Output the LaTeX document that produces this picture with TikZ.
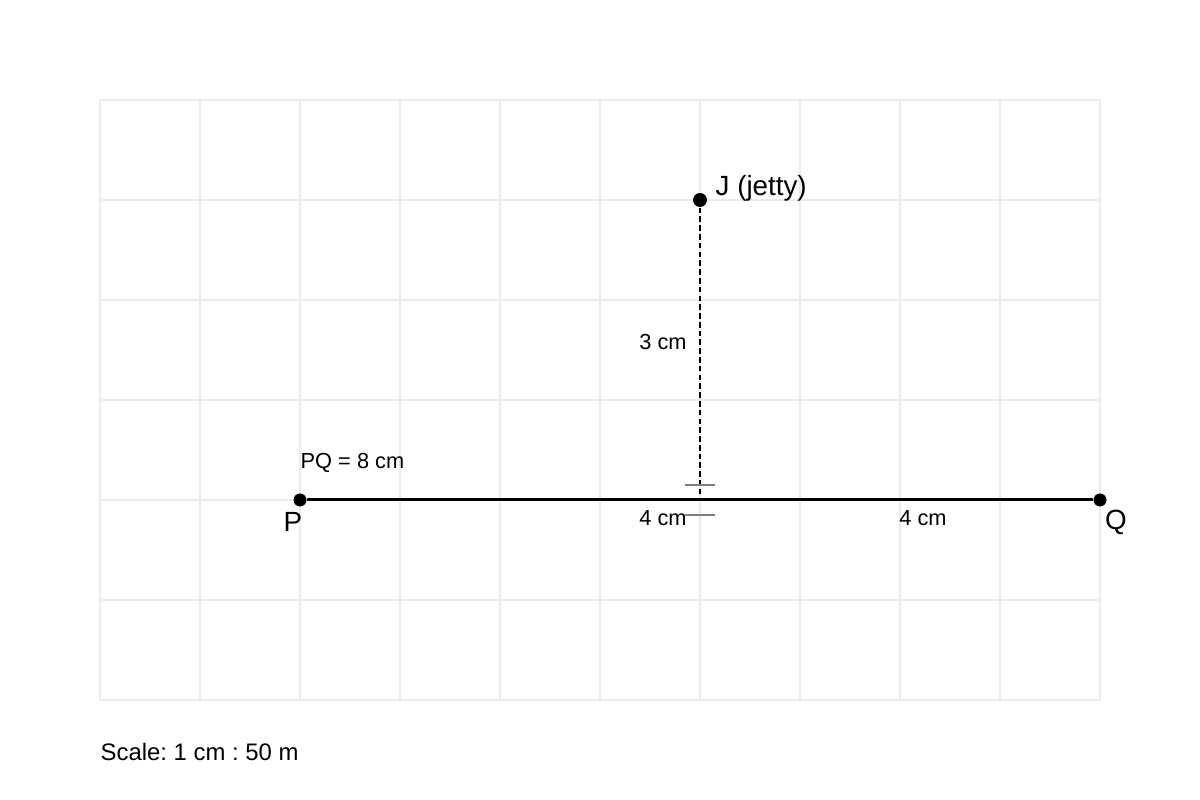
\documentclass[tikz,border=0pt]{standalone}
\usepackage{fontspec}
\setmainfont{Liberation Sans}
\usepackage{tikz}
\usetikzlibrary{positioning}

\begin{document}
\frenchspacing
\begin{tikzpicture}[every node/.style = {inner sep=0pt, font=\fontsize{6.2}{7.5}\selectfont},
    pt/.style = {circle, fill=black, minimum size=0.13cm},
    big/.style = {font=\fontsize{7.9}{9.5}\selectfont}]
  \useasboundingbox (0,0) rectangle (12,8);
  \draw[black!8, line width=0.35pt] (1,1) grid (11,7);
  % points
  \node[pt] (P) at (3,3) {};
  \node[pt] (Q) at (11,3) {};
  \node[pt, minimum size=0.14cm] (J) at (7,6) {};
  \coordinate (F) at (7,3);
  \draw[line width=0.85pt] (P) -- (Q);
  \draw[line width=0.55pt, dash pattern=on 1.6pt off 0.9pt] (J) -- (F);
  % right angle ticks
  \draw[black!50, line width=0.35pt] (6.85,3.15) -- (7.15,3.15) (6.85,2.85) -- (7.15,2.85);
  % labels
  \node[big, anchor=west] (Jlab) at (7.15,6.12) {J (jetty)};
  \node[big] (Plab) at (2.93,2.78) {P};
  \node[big] (Qlab) at (11.16,2.78) {Q};
  \node (h) at (6.63,4.58) {3 cm};
  \node[anchor=west] (pq) at (3,3.37) {PQ = 8 cm};
  \node (a) at (6.63,2.82) {4 cm};
  \node (b) at (9.23,2.82) {4 cm};
  \node[anchor=west, font=\fontsize{6.8}{8}\selectfont] (scale) at (1,0.48) {Scale: 1 cm : 50 m};
\end{tikzpicture}
\end{document}
